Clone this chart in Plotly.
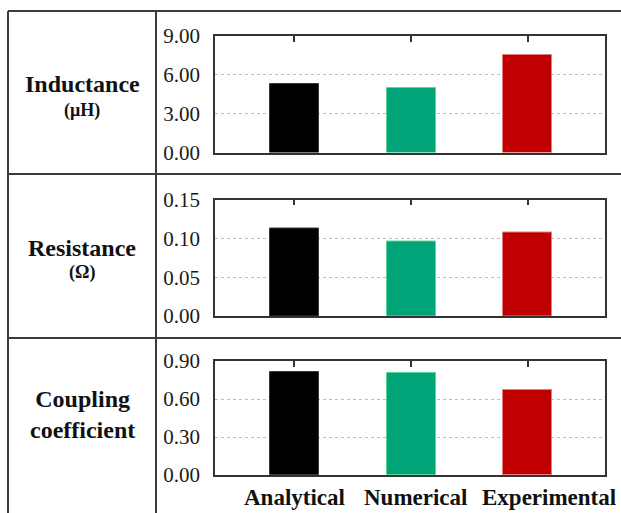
import plotly.graph_objects as go

# ---- data -------------------------------------------------------------
categories = ["Analytical", "Numerical", "Experimental"]
inductance_uH = [5.32, 4.97, 7.55]
resistance_ohm = [0.113, 0.096, 0.107]
coupling_k = [0.815, 0.805, 0.675]

row_titles = ["Inductance", "Resistance", "Coupling<br>coefficient"]
row_units = ["(μH)", "(Ω)", ""]
y_ranges = [[0, 9], [0, 0.15], [0, 0.9]]
y_ticks = [[0, 3, 6, 9], [0, 0.05, 0.10, 0.15], [0, 0.30, 0.60, 0.90]]

bar_colors = ["#000000", "#00A478", "#C00000"]
bar_edges = ["#3a3a3a", "#5ed69a", "#e77a7a"]

# ---- page geometry (pixels) -------------------------------------------
W, H = 621, 513
SERIF = "Liberation Serif"


def px_x(x):
    return x / W


def px_y(y):
    return 1 - y / H


plot_left, plot_right = 215, 605
panel_px = [(36, 152.5), (199.5, 316), (361, 475)]

fig = go.Figure()

series = [inductance_uH, resistance_ohm, coupling_k]
for i, vals in enumerate(series):
    n = i + 1
    fig.add_trace(go.Bar(
        x=categories, y=vals, width=0.42,
        marker=dict(color=bar_colors, line=dict(color=bar_edges, width=1)),
        xaxis=f"x{n}" if n > 1 else "x", yaxis=f"y{n}" if n > 1 else "y",
        showlegend=False, hoverinfo="x+y",
    ))

layout = dict(
    width=W, height=H,
    margin=dict(l=0, r=0, t=0, b=0, pad=0, autoexpand=False),
    paper_bgcolor="white", plot_bgcolor="white",
    bargap=0, showlegend=False,
    font=dict(family=SERIF),
)

for i in range(3):
    n = i + 1
    xk = "xaxis" if n == 1 else f"xaxis{n}"
    yk = "yaxis" if n == 1 else f"yaxis{n}"
    top, bot = panel_px[i]
    # category ticks sit on the top edge, pointing into the plot
    layout[xk] = dict(
        domain=[px_x(plot_left), px_x(plot_right)],
        anchor="y" if n == 1 else f"y{n}",
        type="category", range=[-0.68, 2.66],
        tickmode="array", tickvals=categories,
        side="top", ticks="inside", ticklen=6, tickwidth=1.5, tickcolor="#333",
        showticklabels=False, showgrid=False, zeroline=False,
        showline=True, linecolor="#333", linewidth=1.5, mirror=True,
        automargin=False, fixedrange=True,
    )
    layout[yk] = dict(
        domain=[px_y(bot), px_y(top)],
        anchor="x" if n == 1 else f"x{n}",
        range=y_ranges[i], tickvals=y_ticks[i], tickformat=".2f",
        ticks="", ticklabelstandoff=9,
        tickfont=dict(family=SERIF, size=21, color="#1a1a1a"),
        showgrid=True, gridcolor="#bdbdbd", griddash="dot", gridwidth=1,
        zeroline=False,
        showline=True, linecolor="#333", linewidth=1.5, mirror=True,
        automargin=False, fixedrange=True,
    )

fig.update_layout(**layout)

# ---- table frame ------------------------------------------------------
line_style = dict(color="#3c3c3c", width=2)
table_left, table_top, col_split = 8, 11, 156
row_splits = [174, 338]
shapes = [
    dict(type="line", xref="paper", yref="paper",
         x0=px_x(table_left), x1=1.0, y0=px_y(table_top), y1=px_y(table_top), line=line_style),
    dict(type="line", xref="paper", yref="paper",
         x0=px_x(table_left), x1=px_x(table_left), y0=px_y(table_top), y1=0.0, line=line_style),
    dict(type="line", xref="paper", yref="paper",
         x0=px_x(col_split), x1=px_x(col_split), y0=px_y(table_top), y1=0.0, line=line_style),
]
for ys in row_splits:
    shapes.append(dict(type="line", xref="paper", yref="paper",
                       x0=px_x(table_left), x1=1.0, y0=px_y(ys), y1=px_y(ys), line=line_style))
fig.update_layout(shapes=shapes)

# ---- row headers ------------------------------------------------------
label_cx = px_x((table_left + col_split) / 2)
title_y = [84, 248, 414]
unit_y = [111, 272, None]
annotations = []
for i in range(3):
    annotations.append(dict(
        xref="paper", yref="paper", x=label_cx, y=px_y(title_y[i]),
        text=f"<b>{row_titles[i]}</b>", showarrow=False,
        xanchor="center", yanchor="middle",
        font=dict(family=SERIF, size=24, color="#111"),
    ))
    if row_units[i]:
        annotations.append(dict(
            xref="paper", yref="paper", x=label_cx, y=px_y(unit_y[i]),
            text=f"<b>{row_units[i]}</b>", showarrow=False,
            xanchor="center", yanchor="middle",
            font=dict(family=SERIF, size=18, color="#111"),
        ))

# ---- category labels under the bottom panel ---------------------------
label_shift = [0, 4, 21]
for cat, dx in zip(categories, label_shift):
    annotations.append(dict(
        xref="x3", yref="paper", x=cat, y=px_y(497), xshift=dx,
        text=f"<b>{cat}</b>", showarrow=False,
        xanchor="center", yanchor="middle",
        font=dict(family=SERIF, size=23, color="#111"),
    ))

fig.update_layout(annotations=annotations)

fig.write_html("out.html")
